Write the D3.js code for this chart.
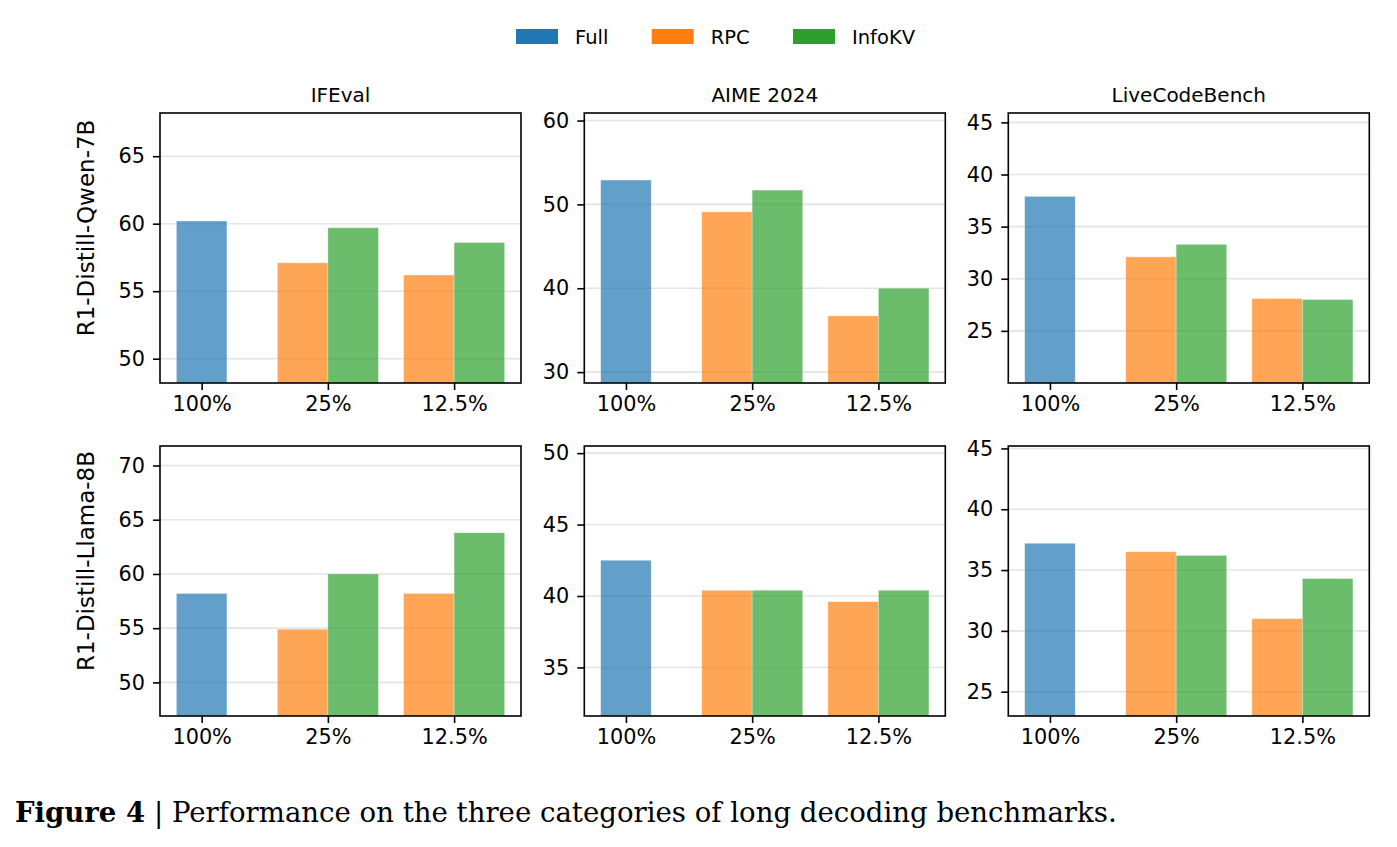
<!DOCTYPE html>
<html>
<head>
<meta charset="utf-8">
<script src="https://cdn.jsdelivr.net/npm/d3@7"></script>
<style>
  body { margin: 0; background: #fff; }
  svg { display: block; }
  text { font-family: "DejaVu Sans", sans-serif; fill: #000; }
</style>
</head>
<body>
<div class="container-chart"></div>
<script>
// data
var categories = ["100%", "25%", "12.5%"];
var benchmarks = ["IFEval", "AIME 2024", "LiveCodeBench"];
var models = ["R1-Distill-Qwen-7B", "R1-Distill-Llama-8B"];
var methods = ["Full", "RPC", "InfoKV"];
var colors = ["#1f77b4", "#ff7f0e", "#2ca02c"];

// Full only at 100%, per benchmark
var qwenFull = [60.2, 52.9, 37.9];
var llamaFull = [58.2, 42.5, 37.2];
// RPC / InfoKV at 25% and 12.5%, per benchmark
var qwenRPC = [[57.1, 56.2], [49.1, 36.7], [32.1, 28.1]];
var qwenInfoKV = [[59.7, 58.6], [51.7, 40.0], [33.3, 28.0]];
var llamaRPC = [[54.9, 58.2], [40.4, 39.6], [36.5, 31.0]];
var llamaInfoKV = [[60.0, 63.8], [40.4, 40.4], [36.2, 34.3]];

var qwenTicks = [[50, 55, 60, 65], [30, 40, 50, 60], [25, 30, 35, 40, 45]];
var llamaTicks = [[50, 55, 60, 65, 70], [35, 40, 45, 50], [25, 30, 35, 40, 45]];

var caption = "Performance on the three categories of long decoding benchmarks.";

var width = 1397, height = 847;
var svg = d3.select(".container-chart").append("svg")
    .attr("width", width).attr("height", height);

var colX = [160, 584.3, 1008.3];
var rowY = [113, 446];
var pw = 361, ph = 270;

var rows = [
    { full: qwenFull, rpc: qwenRPC, info: qwenInfoKV, ticks: qwenTicks },
    { full: llamaFull, rpc: llamaRPC, info: llamaInfoKV, ticks: llamaTicks }
];

function bars(r, b) {
    var out = [{ m: 0, cat: 0, off: 0, v: r.full[b] }];
    for (var i = 0; i < 2; i++) {
        out.push({ m: 1, cat: i + 1, off: -0.2, v: r.rpc[b][i] });
        out.push({ m: 2, cat: i + 1, off: 0.2, v: r.info[b][i] });
    }
    return out;
}

rows.forEach(function (r, ri) {
    benchmarks.forEach(function (bench, bi) {
        var data = bars(r, bi);
        var vals = data.map(function (d) { return d.v; });
        var g = svg.append("g")
            .attr("transform", "translate(" + colX[bi] + "," + rowY[ri] + ")");

        // matplotlib-ish: 5% margin on x, +/-8 on y
        var x = d3.scaleLinear().domain([-0.33, 2.53]).range([0, pw]);
        var y = d3.scaleLinear()
            .domain([d3.min(vals) - 8, d3.max(vals) + 8])
            .range([ph, 0]);

        // grid
        g.selectAll(".grid").data(r.ticks[bi]).enter().append("line")
            .attr("x1", 0).attr("x2", pw)
            .attr("y1", function (d) { return y(d); })
            .attr("y2", function (d) { return y(d); })
            .attr("stroke", "#e3e3e3").attr("stroke-width", 1.6);

        g.selectAll(".bar").data(data).enter().append("rect")
            .attr("x", function (d) { return x(d.cat + d.off - 0.2); })
            .attr("width", x(0.4) - x(0))
            .attr("y", function (d) { return y(d.v); })
            .attr("height", function (d) { return ph - y(d.v); })
            .attr("fill", function (d) { return colors[d.m]; })
            .attr("fill-opacity", 0.7)
            .attr("stroke", "#fff").attr("stroke-opacity", 0.35).attr("stroke-width", 0.8);

        var yAxis = d3.axisLeft(y).tickValues(r.ticks[bi])
            .tickSize(7).tickPadding(8).tickFormat(d3.format("d"));
        var xAxis = d3.axisBottom(x).tickValues([0, 1, 2])
            .tickSize(7).tickPadding(6)
            .tickFormat(function (d) { return categories[d]; });

        var ya = g.append("g").call(yAxis);
        var xa = g.append("g").attr("transform", "translate(0," + ph + ")").call(xAxis);
        [ya, xa].forEach(function (a) {
            a.select(".domain").remove();
            a.selectAll("line").attr("stroke", "#000").attr("stroke-width", 1.6);
            a.selectAll("text").style("font-size", "20.8px").style("font-family", "DejaVu Sans");
        });

        // frame
        g.append("rect").attr("width", pw).attr("height", ph)
            .attr("fill", "none").attr("stroke", "#000").attr("stroke-width", 1.6);

        if (ri === 0) {
            g.append("text").attr("x", pw / 2).attr("y", -11.5)
                .attr("text-anchor", "middle").style("font-size", "20px")
                .text(bench);
        }
        if (bi === 0) {
            g.append("text")
                .attr("transform", "translate(" + (94 - colX[0]) + "," + (ph / 2 - 20) + ") rotate(-90)")
                .attr("text-anchor", "middle").style("font-size", "23px")
                .text(models[ri]);
        }
    });
});

// legend
var legX = [516, 651.7, 793];
var leg = svg.selectAll(".leg").data(methods).enter().append("g")
    .attr("transform", function (d, i) { return "translate(" + legX[i] + ",29)"; });
leg.append("rect").attr("width", 42).attr("height", 15)
    .attr("fill", function (d, i) { return colors[i]; });
leg.append("text").attr("x", 59).attr("y", 14.5)
    .style("font-size", "19.5px").text(function (d) { return d; });

// caption
var cap = svg.append("text").attr("x", 15).attr("y", 822)
    .style("font-family", "DejaVu Serif, serif").style("font-size", "30px");
cap.append("tspan").style("font-weight", "bold").text("Figure 4");
cap.append("tspan").text(" | " + caption);
var w = cap.node().getComputedTextLength();
cap.style("font-size", (30 * 1102 / w) + "px");
</script>
</body>
</html>
